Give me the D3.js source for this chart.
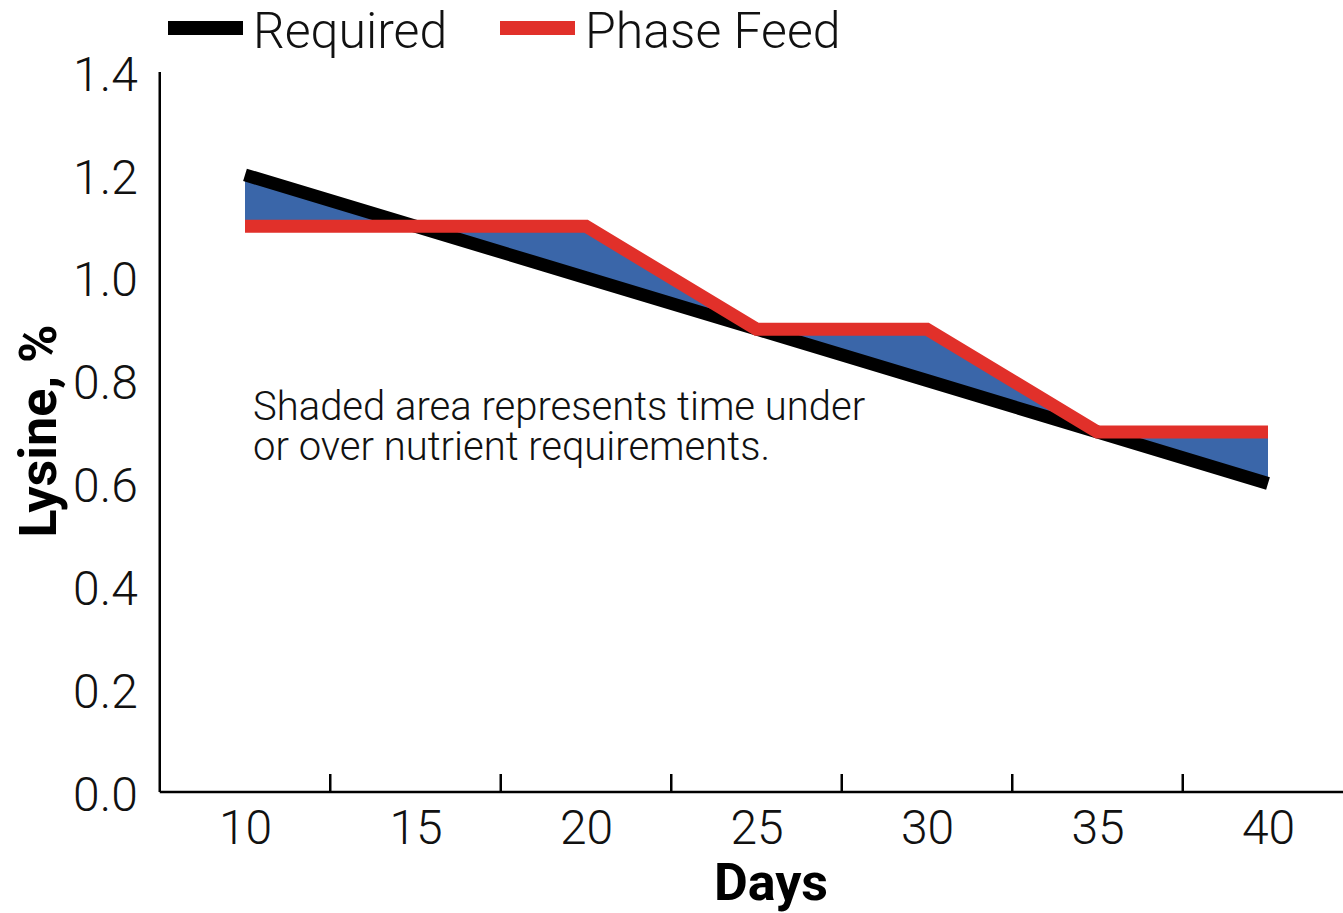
<!DOCTYPE html>
<html>
<head>
<meta charset="utf-8">
<script src="https://cdn.jsdelivr.net/npm/d3@7"></script>
<style>
  body { margin: 0; background: #fff; }
  svg { display: block; font-family: Roboto, "Open Sans", sans-serif; }
</style>
</head>
<body>
<svg width="1343" height="913"></svg>
<script>
// data
let days = [10, 15, 20, 25, 30, 35, 40];
let required = [1.2, 1.1, 1.0, 0.9, 0.8, 0.7, 0.6];
let phaseFeed = [1.1, 1.1, 1.1, 0.9, 0.9, 0.7, 0.7];
let yTicks = [0, 0.2, 0.4, 0.6, 0.8, 1.0, 1.2, 1.4];
let xTickMarks = [12.5, 17.5, 22.5, 27.5, 32.5, 37.5];
let seriesNames = ['Required', 'Phase Feed'];
let seriesColors = ['#000000', '#e1302a'];

let svg = d3.select('svg');

let x = d3.scaleLinear().domain([10, 40]).range([245, 1268]);
let y = d3.scaleLinear().domain([0, 1.4]).range([792, 72]);
let left = x(7.5), right = x(42.5);

// gridlines + y labels
let yAxis = d3.axisLeft(y)
  .tickValues(yTicks)
  .tickFormat(d3.format('.1f'))
  .tickSize(left - right)
  .tickPadding(22);

svg.append('g')
  .attr('transform', `translate(${left},0)`)
  .call(yAxis)
  .attr('font-family', null)
  .attr('font-size', null)
  .call(g => g.select('.domain').remove())
  .call(g => g.selectAll('.tick line').attr('stroke', '#b4b4b4').attr('stroke-width', 2.5)
    .attr('transform', `translate(${right - left},0)`))
  .call(g => g.selectAll('.tick text')
    .attr('fill', '#111')
    .attr('font-size', 48)
    .attr('font-weight', 300)
    .attr('dy', '0.38em'));

// shaded area between curves
let pts = days.map((d, i) => ({ d: d, r: required[i], p: phaseFeed[i] }));
let area = d3.area()
  .x(d => x(d.d))
  .y0(d => y(d.r))
  .y1(d => y(d.p));

svg.append('path')
  .datum(pts)
  .attr('d', area)
  .attr('fill', '#3a66a9');

let line = d3.line().x(d => x(d.d));

svg.append('path')
  .datum(pts)
  .attr('d', line.y(d => y(d.r)))
  .attr('fill', 'none')
  .attr('stroke', seriesColors[0])
  .attr('stroke-width', 13)
  .attr('stroke-linejoin', 'miter');

svg.append('path')
  .datum(pts)
  .attr('d', line.y(d => y(d.p)))
  .attr('fill', 'none')
  .attr('stroke', seriesColors[1])
  .attr('stroke-width', 13)
  .attr('stroke-linejoin', 'miter');

// y axis line
svg.append('line')
  .attr('x1', left).attr('x2', left)
  .attr('y1', y(1.4)).attr('y2', y(0))
  .attr('stroke', '#000').attr('stroke-width', 2.5);

// x axis
let xAxis = d3.axisBottom(x)
  .tickValues(days)
  .tickSize(0)
  .tickPadding(18);

svg.append('g')
  .attr('transform', `translate(0,${y(0)})`)
  .call(xAxis)
  .attr('font-family', null)
  .attr('font-size', null)
  .call(g => g.select('.domain').remove())
  .call(g => g.selectAll('.tick text')
    .attr('fill', '#111')
    .attr('font-size', 48)
    .attr('font-weight', 300)
    .attr('dy', '0.71em'));

svg.append('line')
  .attr('x1', left).attr('x2', right)
  .attr('y1', y(0)).attr('y2', y(0))
  .attr('stroke', '#000').attr('stroke-width', 2.5);

svg.append('g')
  .selectAll('line')
  .data(xTickMarks)
  .join('line')
  .attr('x1', d => x(d)).attr('x2', d => x(d))
  .attr('y1', y(0) - 18).attr('y2', y(0))
  .attr('stroke', '#000').attr('stroke-width', 2.5);

// axis titles
svg.append('text')
  .attr('x', 771).attr('y', 900)
  .attr('text-anchor', 'middle')
  .attr('font-size', 52)
  .attr('font-weight', 700)
  .text('Days');

svg.append('text')
  .attr('transform', 'translate(56,431) rotate(-90)')
  .attr('text-anchor', 'middle')
  .attr('font-size', 52)
  .attr('font-weight', 700)
  .text('Lysine, %');

// note
let note = svg.append('text')
  .attr('x', 253).attr('y', 420)
  .attr('font-size', 40)
  .attr('font-weight', 300)
  .attr('fill', '#111');
note.append('tspan').attr('x', 253).text('Shaded area represents time under');
note.append('tspan').attr('x', 253).attr('dy', 40).text('or over nutrient requirements.');

// legend
let legendX = [168, 500];
let lg = svg.append('g');
seriesNames.forEach((name, i) => {
  lg.append('line')
    .attr('x1', legendX[i]).attr('x2', legendX[i] + 75)
    .attr('y1', 28).attr('y2', 28)
    .attr('stroke', seriesColors[i]).attr('stroke-width', 14);
  lg.append('text')
    .attr('x', legendX[i] + 85).attr('y', 48)
    .attr('font-size', 50)
    .attr('font-weight', 300)
    .attr('fill', '#111')
    .text(name);
});
</script>
</body>
</html>
